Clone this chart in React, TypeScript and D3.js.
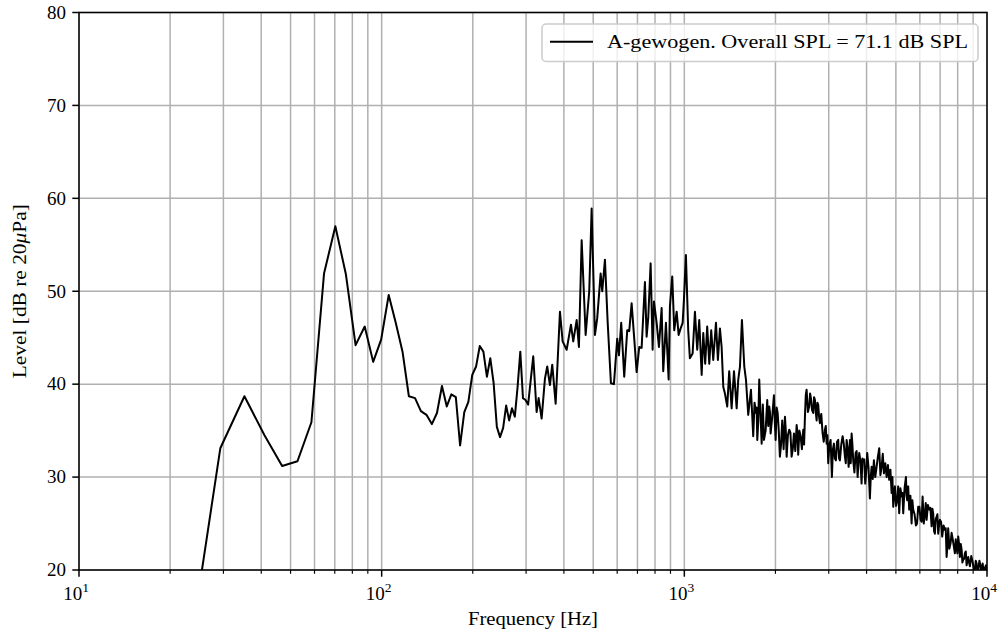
import React from "react";
import * as d3 from "d3";

// ---------- data ----------
const legendLabel = "A-gewogen. Overall SPL = 71.1 dB SPL";
const xLabel = "Frequency [Hz]";
const yTicks = [20, 30, 40, 50, 60, 70, 80];
const xDecadeExps = [1, 2, 3, 4];

// [frequency Hz, level dB]
const lowBand: [number, number][] = [
  [23.4, 12.0], [29.3, 33.1], [35.2, 38.7], [41.0, 34.5], [46.9, 31.2], [52.7, 31.7],
  [58.6, 35.9], [64.5, 51.9], [70.3, 57.0], [76.2, 51.8], [82.0, 44.2], [87.9, 46.2],
  [93.75, 42.4], [99.6, 44.8], [105.5, 49.6], [111.3, 46.6], [117.2, 43.5], [123.0, 38.7],
  [128.9, 38.5], [134.8, 37.1], [140.6, 36.7], [146.5, 35.7], [152.3, 36.9], [158.2, 39.8],
  [164.1, 37.6], [169.9, 38.9], [175.8, 38.6], [181.6, 33.4], [187.5, 37.0], [193.4, 38.1],
  [199.2, 41.0], [205.1, 41.9], [210.9, 44.1], [216.8, 43.5], [222.7, 40.8], [228.5, 42.8],
  [234.4, 40.1], [240.2, 35.4], [246.1, 34.3], [252.0, 35.3], [257.8, 37.7], [263.7, 36.1],
  [269.5, 37.4], [275.4, 36.5], [281.25, 39.7], [287.1, 43.5], [293.0, 38.5], [298.8, 38.3],
  [304.7, 37.8],
];

const midBand: [number, number][] = [
  [316.8, 43.0], [325.1, 37.0], [330.1, 38.5], [337.7, 36.3], [346.3, 40.6], [352.4, 41.9],
  [359.7, 39.9], [366.1, 42.1], [375.7, 37.9], [388.2, 47.8], [396.2, 44.6], [408.5, 43.7],
  [422.1, 46.4], [429.5, 44.6], [440.8, 46.9], [448.5, 44.0], [457.9, 55.5], [472.0, 45.3],
  [485.1, 50.0], [494.0, 58.9], [506.6, 45.3], [515.5, 47.1], [529.0, 51.9], [535.5, 50.0],
  [546.6, 53.4], [558.0, 46.7], [572.1, 40.1], [585.3, 40.0], [600.2, 44.9], [608.0, 43.1],
  [618.7, 46.6], [633.0, 40.8], [647.6, 45.8], [657.6, 45.7], [669.7, 48.7], [683.1, 44.9],
  [695.7, 41.3], [709.6, 44.0], [722.6, 43.9], [741.0, 51.0], [750.6, 45.1], [759.8, 47.1],
  [773.8, 53.0], [785.7, 43.7], [793.5, 48.9], [810.0, 46.6], [824.3, 44.0], [841.4, 48.2],
  [851.7, 41.4], [869.4, 46.6], [887.4, 40.5], [896.3, 48.4], [912.1, 51.6], [926.1, 45.8],
  [943.2, 47.8], [957.6, 45.3], [972.3, 46.0], [987.2, 46.6], [997.0, 49.1], [1012, 53.9],
  [1030, 45.8], [1043, 42.8], [1065, 43.3], [1084, 47.8], [1103, 43.7], [1120, 46.9],
  [1141, 41.0], [1155, 45.5], [1172, 42.2], [1190, 46.2], [1209, 42.2], [1227, 45.8],
  [1246, 42.6], [1272, 46.6], [1291, 42.6], [1311, 46.0], [1328, 44.0], [1345, 39.7],
  [1362, 39.0], [1386, 37.6], [1407, 41.4], [1433, 37.4], [1459, 41.4], [1489, 37.4],
  [1507, 40.5], [1527, 41.9], [1550, 46.9], [1578, 41.9], [1598, 40.5], [1626, 36.7],
];

const highBand: [number, number][] = [
  [1660, 39.4], [1689, 34.4], [1724, 36.9], [1742, 34.0], [1768, 40.5], [1801, 33.6],
  [1833, 34.0], [1879, 38.3], [1908, 37.6], [1928, 34.7], [1977, 38.8], [2003, 34.0],
  [2034, 36.9], [2069, 32.2], [2106, 36.1], [2150, 36.5], [2178, 32.2], [2221, 35.1],
  [2262, 32.2], [2302, 34.7], [2350, 35.6], [2378, 32.4], [2422, 34.4], [2471, 35.1],
  [2503, 36.5], [2535, 39.4], [2586, 37.6], [2620, 38.5], [2666, 36.9], [2701, 38.3],
  [2736, 36.1], [2769, 37.8], [2805, 35.8], [2863, 34.7], [2914, 35.1], [2952, 33.6],
  [2988, 31.5], [3043, 34.0], [3073, 30.0], [3121, 33.6], [3168, 31.8], [3224, 34.0],
  [3266, 31.8], [3334, 34.4], [3393, 32.2], [3437, 34.0], [3490, 31.1], [3524, 34.0],
  [3570, 34.7], [3614, 31.8], [3681, 32.6], [3737, 30.0], [3783, 32.6], [3852, 29.3],
  [3900, 31.8], [3959, 29.3], [4020, 32.6], [4103, 27.7], [4157, 31.1], [4230, 31.8],
  [4318, 31.1], [4405, 33.1], [4486, 31.1], [4565, 30.4], [4660, 30.0], [4753, 29.7],
  [4840, 28.3], [4900, 26.8], [4963, 29.0], [5051, 27.5], [5128, 26.1], [5223, 27.9],
  [5287, 26.1], [5397, 30.0], [5450, 27.5], [5533, 26.5], [5635, 25.0], [5704, 26.5],
  [5823, 24.8], [5925, 26.8], [6034, 25.4], [6127, 27.9], [6235, 26.1], [6316, 25.4],
  [6442, 26.5], [6561, 24.7], [6641, 26.1], [6727, 23.9], [6815, 25.7], [6899, 23.9],
  [6988, 25.4], [7112, 23.6], [7259, 24.3], [7354, 21.4], [7444, 24.5], [7581, 22.9],
  [7697, 23.4], [7833, 21.8], [7935, 22.5], [8033, 23.6], [8137, 21.4], [8243, 22.2],
  [8344, 21.1], [8453, 21.8], [8563, 20.5], [8667, 21.4], [8781, 20.4], [8963, 20.9],
  [9121, 20.0], [9240, 20.7], [9353, 20.0], [9525, 20.4], [9672, 20.7], [9768, 19.9],
  [9917, 20.5],
];

// extra bins read in the dense 1.6–10 kHz band
const highDetail: [number, number][] = [
  [1674, 37.0], [1706, 38.0], [1733, 37.5], [1755, 36.0], [1784, 37.0], [1817, 37.8],
  [1856, 35.0], [1893, 35.5], [1918, 37.0], [1952, 36.5], [1990, 36.0], [2018, 37.5],
  [2051, 35.0], [2087, 33.5], [2128, 33.0], [2164, 35.0], [2199, 34.5], [2241, 34.8],
  [2282, 33.0], [2326, 32.8], [2364, 34.8], [2400, 35.0], [2446, 33.0], [2487, 33.5],
  [2519, 38.8], [2560, 37.0], [2603, 39.0], [2643, 37.2], [2683, 38.6], [2718, 37.0],
  [2752, 38.0], [2787, 36.5], [2834, 36.8], [2888, 33.8], [2933, 35.5], [2970, 34.5],
  [3015, 33.5], [3058, 32.0], [3097, 33.0], [3144, 32.0], [3196, 33.8], [3245, 32.0],
  [3300, 33.5], [3363, 33.6], [3415, 31.5], [3463, 33.2], [3507, 32.0], [3547, 31.5],
  [3592, 33.5], [3647, 30.5], [3709, 32.8], [3760, 31.5], [3817, 31.8], [3876, 32.0],
  [3929, 31.9], [3989, 30.5], [4061, 31.0], [4130, 30.0], [4193, 29.8], [4274, 30.0],
  [4361, 32.2], [4445, 30.2], [4525, 32.5], [4612, 31.5], [4706, 31.3], [4796, 30.8],
  [4870, 30.0], [4931, 28.0], [5007, 26.9], [5089, 29.0], [5175, 28.8], [5255, 28.3],
  [5342, 28.8], [5423, 28.0], [5491, 29.0], [5584, 28.0], [5669, 27.5], [5763, 26.0],
  [5874, 25.0], [5979, 26.8], [6080, 25.2], [6181, 25.0], [6275, 27.2], [6379, 27.0],
  [6501, 26.7], [6601, 26.6], [6684, 24.2], [6771, 25.5], [6857, 26.0], [6943, 24.8],
  [7050, 25.2], [7185, 24.8], [7306, 24.5], [7399, 22.5], [7512, 22.3], [7639, 24.0],
  [7765, 22.6], [7884, 23.3], [7984, 21.8], [8085, 22.8], [8190, 22.8], [8293, 20.8],
  [8398, 21.2], [8508, 22.0], [8615, 21.0], [8724, 20.8], [8871, 21.5], [9042, 20.0],
  [9180, 21.0], [9296, 19.8], [9439, 21.0], [9598, 19.6], [9720, 20.2], [9842, 20.2],
  [9990, 19.5],
];

const spectrum: [number, number][] = [...lowBand, ...midBand, ...highBand, ...highDetail].sort(
  (a, b) => a[0] - b[0]
);

// ---------- layout ----------
const W = 1007;
const H = 636;
const L = 79;
const R = 987;
const T = 12.5;
const B = 570;
const FONT = "'Liberation Serif', 'Times New Roman', serif";
const FS = 19;

export default function App() {
  const x = d3.scaleLog().domain([10, 10000]).range([L, R]);
  const y = d3.scaleLinear().domain([20, 80]).range([B, T]);

  const majors = xDecadeExps.map((e) => Math.pow(10, e));
  const minors: number[] = [];
  for (let e = 1; e < 4; e++) {
    for (let m = 2; m <= 9; m++) minors.push(m * Math.pow(10, e));
  }

  const line = d3
    .line<[number, number]>()
    .x((d) => x(d[0]))
    .y((d) => y(d[1]));
  const path = line(spectrum) || "";

  const grid = "#b0b0b0";

  return (
    <svg
      width={W}
      height={H}
      style={{ position: "absolute", left: 0, top: 0, background: "#fff" }}
      fontFamily={FONT}
    >
      <defs>
        <clipPath id="plotclip">
          <rect x={L} y={T} width={R - L} height={B - T} />
        </clipPath>
      </defs>
      <rect x={0} y={0} width={W} height={H} fill="#fff" />

      {/* grid */}
      {[...majors, ...minors].map((v, i) => (
        <line key={"gx" + i} x1={x(v)} x2={x(v)} y1={T} y2={B} stroke={grid} strokeWidth={1.5} />
      ))}
      {yTicks.map((v) => (
        <line key={"gy" + v} x1={L} x2={R} y1={y(v)} y2={y(v)} stroke={grid} strokeWidth={1.5} />
      ))}

      {/* data */}
      <path
        d={path}
        fill="none"
        stroke="#000"
        strokeWidth={2}
        strokeLinejoin="round"
        clipPath="url(#plotclip)"
      />

      {/* spines */}
      <rect x={L} y={T} width={R - L} height={B - T} fill="none" stroke="#000" strokeWidth={1.5} />

      {/* y ticks */}
      {yTicks.map((v) => (
        <g key={"yt" + v}>
          <line x1={L - 6.7} x2={L} y1={y(v)} y2={y(v)} stroke="#000" strokeWidth={1.5} />
          <text x={L - 13} y={y(v) + 6.3} textAnchor="end" fontSize={FS} fill="#000">
            {v}
          </text>
        </g>
      ))}

      {/* x ticks */}
      {majors.map((v, i) => (
        <g key={"xt" + v}>
          <line x1={x(v)} x2={x(v)} y1={B} y2={B + 6.7} stroke="#000" strokeWidth={1.5} />
          <text x={x(v) - 3} y={600} textAnchor="middle" fontSize={FS} fill="#000">
            10
            <tspan fontSize={13.5} dy={-8}>
              {xDecadeExps[i]}
            </tspan>
          </text>
        </g>
      ))}
      {minors.map((v, i) => (
        <line key={"xm" + i} x1={x(v)} x2={x(v)} y1={B} y2={B + 3.8} stroke="#000" strokeWidth={1.15} />
      ))}

      {/* axis labels */}
      <text x={(L + R) / 2} y={625} textAnchor="middle" fontSize={FS} fill="#000" textLength={130} lengthAdjust="spacingAndGlyphs">
        {xLabel}
      </text>
      <text
        transform={`translate(26, ${(T + B) / 2}) rotate(-90)`}
        textAnchor="middle"
        fontSize={FS}
        fill="#000"
        textLength={174}
        lengthAdjust="spacingAndGlyphs"
      >
        Level [dB re 20<tspan fontStyle="italic">μ</tspan>Pa]
      </text>

      {/* legend */}
      <g>
        <rect x={542} y={24} width={436} height={37.5} rx={4} ry={4} fill="#fff" fillOpacity={0.8} stroke="#cccccc" strokeWidth={1.5} />
        <line x1={550} x2={593} y1={41.7} y2={41.7} stroke="#000" strokeWidth={2} />
        <text x={607} y={48} fontSize={FS} fill="#000" textLength={361} lengthAdjust="spacingAndGlyphs">
          {legendLabel}
        </text>
      </g>
    </svg>
  );
}
